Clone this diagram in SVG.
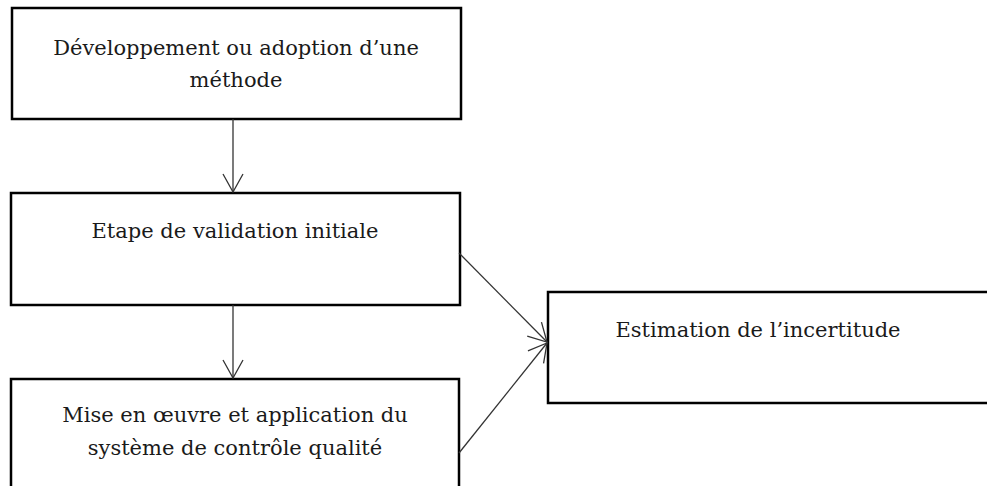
<svg xmlns="http://www.w3.org/2000/svg" width="987" height="486" viewBox="0 0 987 486">
<style>
.box{fill:#fff;stroke:#000;stroke-width:2.5}
.t{font-family:"DejaVu Serif","Liberation Serif",serif;font-size:21px;fill:#1a1a1a;text-anchor:middle}
.c{fill:none;stroke:#333;stroke-width:1.3}
</style>
<defs>
<marker id="ah" viewBox="0 0 20 22" refX="19" refY="11" markerWidth="20" markerHeight="22" markerUnits="userSpaceOnUse" orient="auto">
<path d="M1,1 L19,11 L1,21" fill="none" stroke="#333" stroke-width="1.3"/>
</marker>
</defs>
<rect width="987" height="486" fill="#fff"/>
<g id="n1">
<rect class="box" x="12" y="8" width="449" height="111"/>
<text class="t" x="236" y="55">Développement ou adoption d’une</text>
<text class="t" x="236" y="87">méthode</text>
</g>
<g id="n2">
<rect class="box" x="11" y="193" width="449" height="112"/>
<text class="t" x="235" y="238">Etape de validation initiale</text>
</g>
<g id="n3">
<rect class="box" x="11" y="379" width="448" height="120"/>
<text class="t" x="235" y="422">Mise en œuvre et application du</text>
<text class="t" x="235" y="455">système de contrôle qualité</text>
</g>
<g id="n4">
<rect class="box" x="548" y="292" width="460" height="111"/>
<text class="t" x="758" y="337">Estimation de l’incertitude</text>
</g>
<g id="connectors">
<line class="c" x1="233" y1="119" x2="233" y2="192" marker-end="url(#ah)"/>
<line class="c" x1="233" y1="305" x2="233" y2="378" marker-end="url(#ah)"/>
<line class="c" x1="459" y1="253" x2="547" y2="342" marker-end="url(#ah)"/>
<line class="c" x1="459" y1="453" x2="547" y2="343" marker-end="url(#ah)"/>
</g>
</svg>
